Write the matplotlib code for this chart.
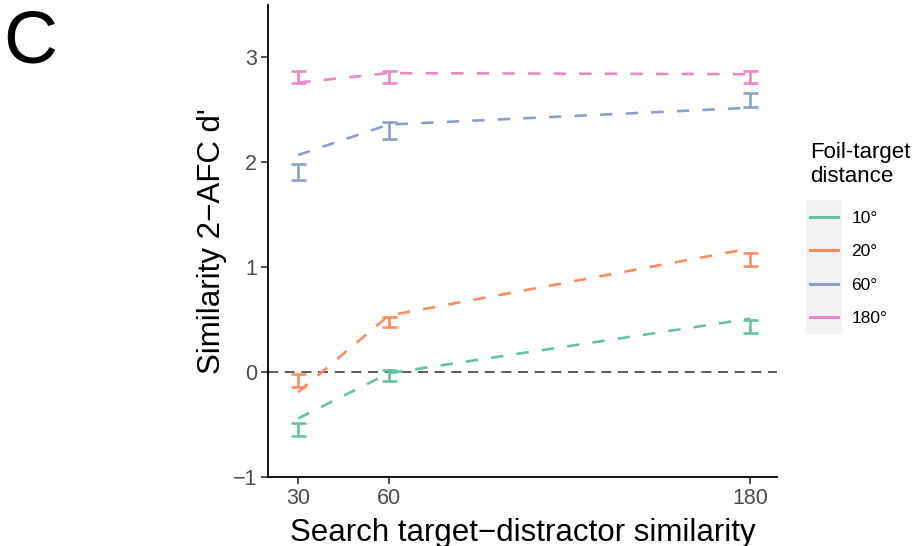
import matplotlib.pyplot as plt
from matplotlib.patches import Rectangle

plt.rcParams['font.family'] = ['Liberation Sans', 'DejaVu Sans']

similarity = [30, 60, 180]
foil_labels = ["10°", "20°", "60°", "180°"]
colors = ["#66C2A5", "#FC8D62", "#8DA0CB", "#E78AC3"]

# observed d' (error bar low / high) and model prediction (dashed line)
obs_low = [
    [-0.61, -0.08, 0.37],
    [-0.14, 0.43, 1.01],
    [1.83, 2.22, 2.53],
    [2.76, 2.76, 2.76],
]
obs_high = [
    [-0.48, 0.02, 0.50],
    [-0.02, 0.53, 1.14],
    [1.98, 2.38, 2.66],
    [2.87, 2.87, 2.87],
]
model = [
    [-0.44, -0.01, 0.51],
    [-0.19, 0.54, 1.18],
    [2.07, 2.36, 2.52],
    [2.76, 2.85, 2.84],
]


def main():
    fig = plt.figure(figsize=(9.21, 5.46), dpi=100)
    ax = fig.add_axes([0.291, 0.126, 0.553, 0.865])

    ax.axhline(0, color="#404040", lw=1.2, dashes=(6, 4), zorder=1)

    for i, lab in enumerate(foil_labels):
        mid = [(lo + hi) / 2 for lo, hi in zip(obs_low[i], obs_high[i])]
        err = [(hi - lo) / 2 for lo, hi in zip(obs_low[i], obs_high[i])]
        ax.errorbar(similarity, mid, yerr=err, fmt="none", ecolor=colors[i],
                    elinewidth=1.9, capsize=5.4, capthick=1.9, zorder=3)
        ax.plot(similarity, model[i], color=colors[i], lw=1.9,
                dashes=(4.7, 5.0), label=lab, zorder=2)

    ax.set_xlim(20, 189)
    ax.set_ylim(-1, 3.5)
    ax.set_xticks(similarity)
    ax.set_yticks([-1, 0, 1, 2, 3])
    ax.set_yticklabels(["\u22121", "0", "1", "2", "3"])
    ax.tick_params(labelsize=15.5, colors="#333333", labelcolor="#4D4D4D",
                   length=5, width=1.2, pad=3)
    for s in ["top", "right"]:
        ax.spines[s].set_visible(False)
    for s in ["left", "bottom"]:
        ax.spines[s].set_linewidth(1.3)

    ax.set_xlabel("Search target\u2212distractor similarity", fontsize=22.5,
                  labelpad=6)
    ax.set_ylabel("Similarity 2\u2212AFC d'", fontsize=22.5, labelpad=4)

    leg = ax.legend(title="Foil-target\ndistance", frameon=False,
                    loc="upper left", bbox_to_anchor=(0.880, 0.740),
                    bbox_transform=fig.transFigure, fontsize=12.5,
                    title_fontsize=16, handlelength=1.6, labelspacing=1.05,
                    handletextpad=0.75, alignment="left", borderaxespad=0,
                    borderpad=0)
    leg._legend_box.sep = 17
    for h in leg.legend_handles:
        h.set_linestyle("-")
        h.set_linewidth(2.2)

    # grey key background behind the legend keys, as in ggplot
    fig.canvas.draw()
    r = fig.canvas.get_renderer()
    boxes = [h.get_window_extent(r) for h in leg.legend_handles]
    x0 = min(b.x0 for b in boxes) - 4
    x1 = max(b.x1 for b in boxes) + 4
    y0 = min(b.y0 for b in boxes) - 17
    y1 = max(b.y1 for b in boxes) + 17
    inv = fig.transFigure.inverted()
    (fx0, fy0), (fx1, fy1) = inv.transform([(x0, y0), (x1, y1)])
    fig.add_artist(Rectangle((fx0, fy0), fx1 - fx0, fy1 - fy0,
                             transform=fig.transFigure, facecolor="#F2F2F2",
                             edgecolor="none", zorder=0))

    fig.text(0.004, 0.985, "C", fontsize=54, va="top", ha="left")

    fig.savefig("out.png", dpi=100)


if __name__ == "__main__":
    main()
